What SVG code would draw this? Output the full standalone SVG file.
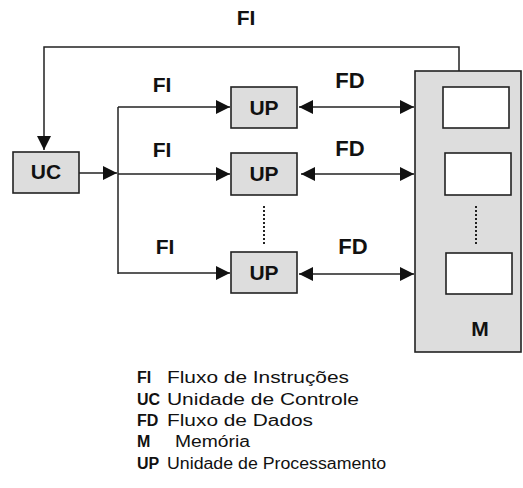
<svg xmlns="http://www.w3.org/2000/svg" width="523" height="488" viewBox="0 0 523 488">
  <style>
    .box { fill: #dddddd; stroke: #222; stroke-width: 1.6; }
    .cell { fill: #ffffff; stroke: #222; stroke-width: 1.6; }
    .line { fill: none; stroke: #222; stroke-width: 1.5; }
    .dots { fill: none; stroke: #222; stroke-width: 2; stroke-dasharray: 2 2; }
    .lbl { font-family: "Liberation Sans", Arial, sans-serif; font-size: 21px; font-weight: bold; fill: #111; text-anchor: middle; }
    .fd { font-size: 22px; }
    .node { font-family: "Liberation Sans", Arial, sans-serif; font-size: 21px; font-weight: bold; fill: #111; text-anchor: middle; }
    .key { font-family: "Liberation Sans", Arial, sans-serif; font-size: 16px; font-weight: bold; fill: #111; }
    .desc { font-family: "Liberation Sans", Arial, sans-serif; font-size: 16px; fill: #111; }
  </style>
  <defs>
    <marker id="arrow" markerUnits="userSpaceOnUse" markerWidth="14" markerHeight="14" refX="14" refY="7" orient="auto-start-reverse" viewBox="0 0 14 14">
      <path d="M0,0 L14,7 L0,14 z" fill="#111"/>
    </marker>
  </defs>

  <!-- connectors -->
  <g id="connectors">
    <!-- instruction feedback from memory to control unit -->
    <path class="line" d="M459,71 V47 H44 V150" marker-end="url(#arrow)"/>
    <!-- control unit to the distribution bus -->
    <path class="line" d="M79,173 H117" marker-end="url(#arrow)"/>
    <path class="line" d="M118,107 V274"/>
    <path class="line" d="M118,107 H230" marker-end="url(#arrow)"/>
    <path class="line" d="M118,174 H230" marker-end="url(#arrow)"/>
    <path class="line" d="M118,273 H230" marker-end="url(#arrow)"/>
    <!-- data flows between processing units and memory -->
    <path class="line" d="M299,107 H414" marker-start="url(#arrow)" marker-end="url(#arrow)"/>
    <path class="line" d="M301,174 H414" marker-start="url(#arrow)" marker-end="url(#arrow)"/>
    <path class="line" d="M299,274 H414" marker-start="url(#arrow)" marker-end="url(#arrow)"/>
    <!-- ellipsis between units -->
    <path class="dots" d="M264,206 V244"/>
    <!-- flow labels -->
    <text class="lbl" x="246" y="25">FI</text>
    <text class="lbl" x="162" y="92">FI</text>
    <text class="lbl" x="162" y="157">FI</text>
    <text class="lbl" x="165" y="254">FI</text>
    <text class="lbl fd" x="350" y="88">FD</text>
    <text class="lbl fd" x="350" y="156">FD</text>
    <text class="lbl fd" x="353" y="254">FD</text>
  </g>

  <g id="uc">
    <rect class="box" x="13" y="152" width="66" height="41"/>
    <text class="node" x="46" y="179">UC</text>
  </g>

  <g id="up1">
    <rect class="box" x="231" y="87" width="66" height="41"/>
    <text class="node" x="264" y="115">UP</text>
  </g>
  <g id="up2">
    <rect class="box" x="231" y="153" width="66" height="42"/>
    <text class="node" x="264" y="181">UP</text>
  </g>
  <g id="up3">
    <rect class="box" x="231" y="252" width="66" height="41"/>
    <text class="node" x="264" y="280">UP</text>
  </g>

  <g id="memory">
    <rect class="box" x="415" y="71" width="106" height="281"/>
    <rect class="cell" x="443" y="87" width="66" height="41"/>
    <rect class="cell" x="445" y="153" width="66" height="42"/>
    <path class="dots" d="M476,206 V244"/>
    <rect class="cell" x="446" y="253" width="66" height="41"/>
    <text class="lbl" x="480" y="336">M</text>
  </g>

  <g id="legend">
    <text class="key" x="137" y="383">FI</text>
    <text class="desc" x="167" y="383" textLength="182" lengthAdjust="spacingAndGlyphs">Fluxo de Instruções</text>
    <text class="key" x="137" y="405">UC</text>
    <text class="desc" x="167" y="405" textLength="192" lengthAdjust="spacingAndGlyphs">Unidade de Controle</text>
    <text class="key" x="137" y="426">FD</text>
    <text class="desc" x="167" y="426" textLength="146" lengthAdjust="spacingAndGlyphs">Fluxo de Dados</text>
    <text class="key" x="137" y="447">M</text>
    <text class="desc" x="175" y="447" textLength="75" lengthAdjust="spacingAndGlyphs">Memória</text>
    <text class="key" x="137" y="469">UP</text>
    <text class="desc" x="167" y="469" textLength="219" lengthAdjust="spacingAndGlyphs">Unidade de Processamento</text>
  </g>
</svg>
